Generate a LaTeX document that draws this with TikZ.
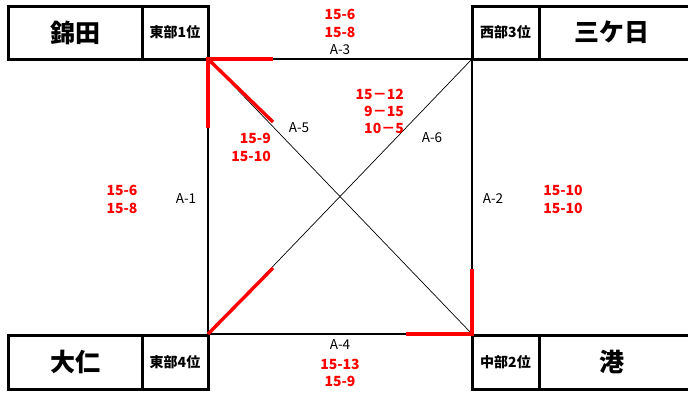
\documentclass[tikz,border=0pt]{standalone}
\usepackage{fontspec}
\newfontfamily\jp{Noto Sans CJK JP}
\begin{document}
\begin{tikzpicture}[x=1pt,y=-1pt,
  teambox/.style={draw,line width=3pt,inner sep=0pt,minimum height=53pt},
  namelbl/.style={font=\jp\bfseries\fontsize{25}{27}\selectfont},
  ranklbl/.style={font=\jp\bfseries\fontsize{14}{16}\selectfont},
  score/.style={text=red,font=\jp\bfseries\fontsize{14}{16}\selectfont,inner sep=0pt},
  matchlbl/.style={font=\jp\fontsize{13.5}{15}\selectfont,inner sep=0pt},
  thinline/.style={line width=2pt},
  diag/.style={line width=0.7pt},
  win/.style={red,line width=3.4pt}]
\useasboundingbox (0,0) rectangle (688,392);
\begin{scope}
\clip (0,0) rectangle (688,392);
% square corners
\coordinate (TL) at (208,59);
\coordinate (TR) at (472,59);
\coordinate (BL) at (208,334);
\coordinate (BR) at (472,334);
% team boxes
\node[teambox,minimum width=134pt,namelbl] (n1) at (75,32.5) {錦田};
\node[teambox,minimum width=66pt,ranklbl] (r1) at (175,32.5) {東部1位};
\node[teambox,minimum width=67pt,ranklbl] (r3) at (505.5,32.5) {西部3位};
\node[teambox,minimum width=160pt,namelbl] (n3) at (619,32.5) {};
\node[namelbl] (t3) at (612,32.5) {三ケ日};
\node[teambox,minimum width=134pt,minimum height=54pt,namelbl] (n4) at (75,362) {大仁};
\node[teambox,minimum width=66pt,minimum height=54pt,ranklbl] (r4) at (175,362) {東部4位};
\node[teambox,minimum width=67pt,minimum height=54pt,ranklbl] (r2) at (505.5,362) {中部2位};
\node[teambox,minimum width=160pt,minimum height=54pt,namelbl] (n2) at (619,362) {};
\node[namelbl] (t2) at (612,362) {港};
\end{scope}
% square lines
\draw[thinline] (TL) -- (TR);
\draw[thinline] (BL) -- (BR);
\draw[thinline] (TL) -- (BL);
\draw[thinline] (TR) -- (BR);
\draw[diag] (TL) -- (BR);
\draw[diag] (BL) -- (TR);
% winner marks
\coordinate (w1) at (273,59);
\coordinate (w2) at (208,128);
\coordinate (w3) at (273,122);
\coordinate (w4) at (273,268);
\coordinate (w5) at (406,334);
\coordinate (w6) at (472,269);
\draw[win] (w1) -- (TL) -- (w2);
\draw[win] (TL) -- (w3);
\draw[win] (BL) -- (w4);
\draw[win] (w5) -- (BR) -- (w6);
% top
\node[score] (s3a) at (340,14) {15-6};
\node[score] (s3b) at (340,32) {15-8};
\node[matchlbl] (a3) at (340,50) {A-3};
% bottom
\node[matchlbl] (a4) at (340,345) {A-4};
\node[score] (s4a) at (340,364) {15-13};
\node[score] (s4b) at (340,381) {15-9};
% left
\node[score] (s1a) at (122,190) {15-6};
\node[score] (s1b) at (122,208) {15-8};
\node[matchlbl] (a1) at (186,199) {A-1};
% right
\node[matchlbl] (a2) at (493,199) {A-2};
\node[score] (s2a) at (563,190) {15-10};
\node[score] (s2b) at (563,208) {15-10};
% A-5
\node[matchlbl] (a5) at (299,128) {A-5};
\node[score,anchor=east] (s5a) at (271,138) {15-9};
\node[score,anchor=east] (s5b) at (271,156) {15-10};
% A-6
\node[matchlbl] (a6) at (432,138) {A-6};
\node[score,anchor=east] (s6a) at (404,94) {15－12};
\node[score,anchor=east] (s6b) at (404,111) {9－15};
\node[score,anchor=east] (s6c) at (404,128) {10－5};
\end{tikzpicture}
\end{document}
